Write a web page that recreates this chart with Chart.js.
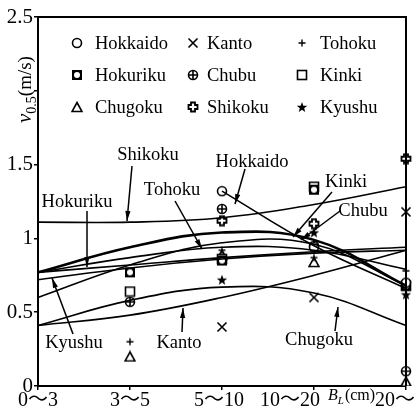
<!DOCTYPE html>
<html>
<head>
<meta charset="utf-8">
<script src="https://cdn.jsdelivr.net/npm/chart.js@4.4.1/dist/chart.umd.min.js"></script>
<style>
  html, body { margin: 0; padding: 0; background: #fff; }
  #wrap { width: 414px; height: 412px; }
</style>
</head>
<body>
<div id="wrap"><canvas id="c" width="414" height="412"></canvas></div>
<script>
// categories (particle size class B_L)
const categories = ["0〜3", "3〜5", "5〜10", "10〜20", "20〜"];
const yTicks = [0, 0.5, 1, 1.5, 2, 2.5];
const yTickLabels = ["0", "0.5", "1", "1.5", "", "2.5"];

// measured points (no data for 0~3)
const hokkaidoPts = [null, null, 1.32, 0.94, 0.70];
const kantoPts    = [null, null, 0.40, 0.60, 1.18];
const tohokuPts   = [null, 0.30, 0.92, 0.87, 0.78];
const hokurikuPts = [null, 0.77, 0.85, 1.33, 0.68];
const chubuPts    = [null, 0.57, 1.20, 0.95, 0.10];
const kinkiPts    = [null, 0.64, 0.86, 1.35, 0.68];
const chugokuPts  = [null, 0.20, 0.89, 0.84, 0.03];
const shikokuPts  = [null, null, 1.12, 1.10, 1.54];
const kyushuPts   = [null, null, 0.72, 1.04, 0.62];

// fitted curves, read at each class
const shikokuFit  = [1.11, 1.11, 1.14, 1.23, 1.35];
const hokkaidoFit = [null, null, 1.32, 0.95, 0.66];
const kinkiFit    = [0.60, 0.82, 0.97, 0.96, 0.68];
const chubuFit    = [0.77, 0.94, 1.04, 0.99, 0.68];
const tohokuFit   = [0.77, 0.87, 0.94, 0.92, 0.79];
const hokurikuFit = [0.77, 0.82, 0.87, 0.91, 0.94];
const kyushuFit   = [0.72, 0.80, 0.86, 0.90, 0.92];
const kantoFit    = [0.41, 0.48, 0.60, 0.75, 0.92];
const chugokuFit  = [0.41, 0.58, 0.67, 0.63, 0.41];

const FONT = '"Liberation Serif", "Times New Roman", serif';
const JFONT = '"Liberation Serif", "Noto Sans CJK JP", serif';

// marker images
function mk(draw) {
  const cv = document.createElement('canvas');
  cv.width = 12; cv.height = 12;
  const g = cv.getContext('2d');
  g.strokeStyle = '#000'; g.fillStyle = '#000'; g.lineWidth = 1.6;
  draw(g);
  return cv;
}
const mCircle = mk(g => { g.beginPath(); g.arc(6, 6, 4.5, 0, 7); g.fillStyle = '#fff'; g.fill(); g.stroke(); });
const mX = mk(g => { g.beginPath(); g.moveTo(1.5, 1.5); g.lineTo(10.5, 10.5); g.moveTo(10.5, 1.5); g.lineTo(1.5, 10.5); g.stroke(); });
const mPlus = mk(g => { g.lineWidth = 1.4; g.beginPath(); g.moveTo(6, 2.5); g.lineTo(6, 9.5); g.moveTo(2.5, 6); g.lineTo(9.5, 6); g.stroke(); });
const mHokuriku = mk(g => { g.fillRect(1, 1, 10, 10); g.fillStyle = '#fff'; g.beginPath(); g.arc(6, 6, 3, 0, 7); g.fill(); });
const mChubu = mk(g => { g.beginPath(); g.arc(6, 6, 4.5, 0, 7); g.fillStyle = '#fff'; g.fill(); g.stroke(); g.beginPath(); g.moveTo(6, 1.5); g.lineTo(6, 10.5); g.moveTo(1.5, 6); g.lineTo(10.5, 6); g.stroke(); });
const mSquare = mk(g => { g.fillStyle = '#fff'; g.fillRect(1.5, 1.5, 9, 9); g.strokeRect(1.5, 1.5, 9, 9); });
const mTri = mk(g => { g.beginPath(); g.moveTo(6, 1.5); g.lineTo(11, 10.5); g.lineTo(1, 10.5); g.closePath(); g.fillStyle = '#fff'; g.fill(); g.stroke(); });
const mShikoku = mk(g => {
  g.lineWidth = 1.8;
  g.beginPath();
  g.moveTo(4, 1.5); g.lineTo(8, 1.5); g.lineTo(8, 4); g.lineTo(10.5, 4); g.lineTo(10.5, 8);
  g.lineTo(8, 8); g.lineTo(8, 10.5); g.lineTo(4, 10.5); g.lineTo(4, 8); g.lineTo(1.5, 8);
  g.lineTo(1.5, 4); g.lineTo(4, 4); g.closePath();
  g.fillStyle = '#fff'; g.fill(); g.stroke();
});
const mStar = mk(g => {
  g.beginPath();
  for (let i = 0; i < 10; i++) {
    const r = i % 2 ? 2.3 : 5.5;
    const a = -Math.PI / 2 + i * Math.PI / 5;
    g.lineTo(6 + r * Math.cos(a), 6.5 + r * Math.sin(a));
  }
  g.closePath(); g.fill();
});

const legendItems = [
  ["Hokkaido", mCircle], ["Kanto", mX], ["Tohoku", mPlus],
  ["Hokuriku", mHokuriku], ["Chubu", mChubu], ["Kinki", mSquare],
  ["Chugoku", mTri], ["Shikoku", mShikoku], ["Kyushu", mStar]
];

function pts(label, data, img) {
  return { label, data, showLine: false, pointStyle: img, pointRadius: 6, borderColor: '#000', backgroundColor: '#000' };
}
function fit(label, data, w) {
  return { label, data, borderColor: '#000', borderWidth: w || 1.6, pointRadius: 0, tension: 0.4, fill: false, spanGaps: false };
}

// in-plot region labels with arrows: [text, cx, cy, x1, y1, x2, y2]
const callouts = [
  ["Shikoku", 148, 154, 132, 166, 127, 221],
  ["Hokuriku", 77, 201, 87, 211, 87, 267],
  ["Tohoku", 172, 189, 175, 201, 202, 249],
  ["Hokkaido", 252, 161, 245, 169, 235, 204],
  ["Kinki", 346, 181, 332, 192, 293, 237],
  ["Chubu", 363, 210, 340, 211, 301, 240],
  ["Kyushu", 74, 342, 73, 334, 52, 278],
  ["Kanto", 179, 342, 182, 332, 183, 308],
  ["Chugoku", 319, 339, 335, 331, 338, 307]
];
// horizontal nudge of x labels so "B_L(cm)" fits
const xLabelShift = [0, 0, -3, -24, -11];

const extras = {
  id: 'extras',
  afterDraw(chart) {
    const g = chart.ctx, a = chart.chartArea;
    g.save();
    // frame top/right
    g.strokeStyle = '#000'; g.lineWidth = 2;
    g.beginPath();
    g.moveTo(a.left, a.top); g.lineTo(a.right, a.top); g.lineTo(a.right, a.bottom);
    g.stroke();
    g.fillStyle = '#000';
    // x tick labels
    const xs = chart.scales.x;
    g.font = '20px ' + JFONT;
    g.textAlign = 'center'; g.textBaseline = 'alphabetic';
    categories.forEach((c, i) => g.fillText(c, xs.getPixelForValue(i) + xLabelShift[i], 406));
    // legend
    g.font = '18.5px ' + FONT;
    g.textAlign = 'left';
    g.textBaseline = 'middle';
    const colM = [77, 193, 302], colT = [95, 207, 320], rowY = [43, 75, 107];
    legendItems.forEach((it, i) => {
      const r = Math.floor(i / 3), c = i % 3;
      g.drawImage(it[1], colM[c] - 6, rowY[r] - 6);
      g.fillText(it[0], colT[c], rowY[r] + 1);
    });
    // callouts
    g.textAlign = 'center';
    callouts.forEach(([t, cx, cy, x1, y1, x2, y2]) => {
      g.fillText(t, cx, cy + 1);
      g.lineWidth = 1.5;
      g.beginPath(); g.moveTo(x1, y1); g.lineTo(x2, y2); g.stroke();
      const ang = Math.atan2(y2 - y1, x2 - x1), L = 10, W = 2.6;
      g.beginPath();
      g.moveTo(x2, y2);
      g.lineTo(x2 - L * Math.cos(ang) + W * Math.sin(ang), y2 - L * Math.sin(ang) - W * Math.cos(ang));
      g.lineTo(x2 - L * Math.cos(ang) - W * Math.sin(ang), y2 - L * Math.sin(ang) + W * Math.cos(ang));
      g.closePath(); g.fill();
    });
    // y title: v_0.5 (m/s)
    g.save();
    g.translate(26, 85);
    g.rotate(-Math.PI / 2);
    g.textAlign = 'left'; g.textBaseline = 'alphabetic';
    g.font = 'italic 21px ' + FONT;
    let x = -38;
    g.fillText('v', x, 5); x += g.measureText('v').width;
    g.font = '14px ' + FONT;
    g.fillText('0.5', x, 10); x += g.measureText('0.5').width;
    g.font = '19px ' + FONT;
    g.fillText('(m/s)', x, 5);
    g.restore();
    // x title: B_L(cm)
    g.textAlign = 'left'; g.textBaseline = 'alphabetic';
    let bx = 328;
    g.font = 'italic 16px ' + FONT;
    g.fillText('B', bx, 400); bx += g.measureText('B').width;
    g.font = 'italic 11px ' + FONT;
    g.fillText('L', bx, 404); bx += g.measureText('L').width;
    g.font = '16px ' + FONT;
    g.fillText('(cm)', bx + 1, 400);
    g.restore();
  }
};

const chart = new Chart(document.getElementById('c'), {
  type: 'line',
  data: {
    labels: categories,
    datasets: [
      fit('Shikoku fit', shikokuFit), fit('Hokkaido fit', hokkaidoFit), fit('Kinki fit', kinkiFit),
      fit('Chubu fit', chubuFit, 2.6), fit('Tohoku fit', tohokuFit), fit('Hokuriku fit', hokurikuFit),
      fit('Kyushu fit', kyushuFit), fit('Kanto fit', kantoFit), fit('Chugoku fit', chugokuFit),
      pts('Hokkaido', hokkaidoPts, mCircle), pts('Kanto', kantoPts, mX), pts('Tohoku', tohokuPts, mPlus),
      pts('Hokuriku', hokurikuPts, mHokuriku), pts('Chubu', chubuPts, mChubu), pts('Kinki', kinkiPts, mSquare),
      pts('Chugoku', chugokuPts, mTri), pts('Shikoku', shikokuPts, mShikoku), pts('Kyushu', kyushuPts, mStar)
    ]
  },
  options: {
    responsive: false,
    animation: false,
    layout: { padding: { top: 17, right: 8, left: 0, bottom: 0 } },
    plugins: { legend: { display: false }, tooltip: { enabled: false } },
    scales: {
      x: {
        offset: false,
        grid: { drawOnChartArea: false, drawTicks: true, tickLength: 4, color: '#000', lineWidth: 1.5 },
        border: { color: '#000', width: 2 },
        ticks: { display: false },
        afterFit(s) { s.height = 26; s.paddingLeft = 0; s.paddingRight = 0; }
      },
      y: {
        min: 0, max: 2.5,
        afterBuildTicks(s) { s.ticks = yTicks.map(v => ({ value: v })); },
        grid: { drawOnChartArea: false, drawTicks: true, tickLength: 4, color: '#000', lineWidth: 1.5 },
        border: { color: '#000', width: 2 },
        ticks: { color: '#000', font: { family: FONT, size: 21 }, padding: 1, callback: (v, i) => yTickLabels[i] },
        afterFit(s) { s.width = 38; s.paddingTop = 0; s.paddingBottom = 0; }
      }
    }
  },
  plugins: [extras]
});
</script>
</body>
</html>
